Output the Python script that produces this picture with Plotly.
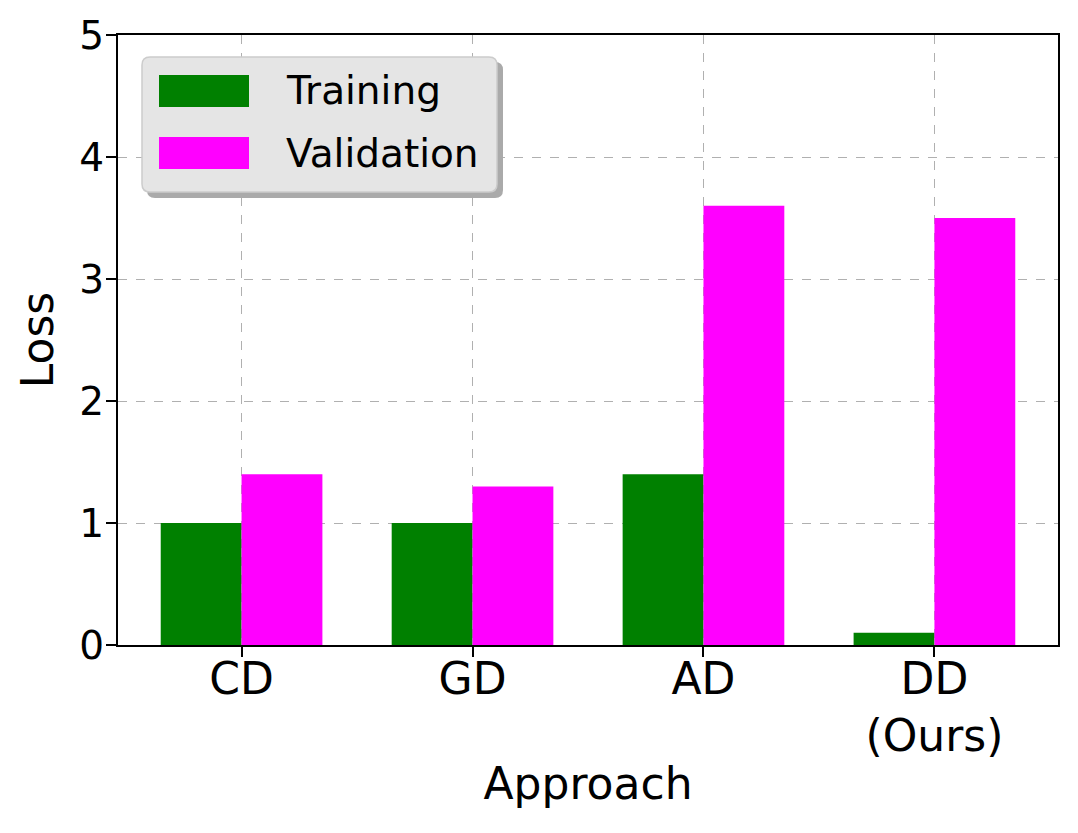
import plotly.graph_objects as go

approaches = ["CD", "GD", "AD", "DD<br>(Ours)"]
positions = [0, 1, 2, 3]
training_loss = [1.0, 1.0, 1.4, 0.1]
validation_loss = [1.4, 1.3, 3.6, 3.5]
y_ticks = [0, 1, 2, 3, 4, 5]

# the page has an 8px body margin, so the figure is a bit smaller than the window
PAGE = 8
W, H = 1078 - PAGE, 833 - PAGE
L, R, T, B = 118 - PAGE, 20, 35 - PAGE, 188
bar_w = 0.35
font = "DejaVu Sans"


def px(x, y):
    # window pixel -> paper coords of the plot area
    x, y = x - PAGE, y - PAGE
    return (x - L) / (W - L - R), (H - B - y) / (H - T - B)


def round_rect(x0, y0, x1, y1, r=8):
    ax, ay = px(x0, y0)
    bx, by = px(x1, y1)
    rx = r / (W - L - R)
    ry = r / (H - T - B)
    return (f"M {ax + rx},{ay} L {bx - rx},{ay} Q {bx},{ay} {bx},{ay - ry} "
            f"L {bx},{by + ry} Q {bx},{by} {bx - rx},{by} L {ax + rx},{by} "
            f"Q {ax},{by} {ax},{by + ry} L {ax},{ay - ry} Q {ax},{ay} {ax + rx},{ay} Z")


fig = go.Figure()
fig.add_trace(go.Bar(x=positions, y=training_loss, width=bar_w, offset=-bar_w,
                     marker=dict(color="#008000", line=dict(width=0)), name="Training"))
fig.add_trace(go.Bar(x=positions, y=validation_loss, width=bar_w, offset=0,
                     marker=dict(color="#ff00ff", line=dict(width=0)), name="Validation"))

# legend box drawn by hand (matplotlib style: shadow + rounded frame)
shapes = [
    dict(type="path", path=round_rect(147, 62, 503, 198), xref="paper", yref="paper",
         fillcolor="#aaaaaa", line=dict(width=0), layer="above"),
    dict(type="path", path=round_rect(142, 57, 497, 192), xref="paper", yref="paper",
         fillcolor="#e5e5e5", line=dict(color="#cccccc", width=1.5), layer="above"),
]
annotations = []
for (cy, color, label) in [(91, "#008000", "Training"), (153, "#ff00ff", "Validation")]:
    x0, y0 = px(159, cy - 16)
    x1, y1 = px(249, cy + 16)
    shapes.append(dict(type="rect", xref="paper", yref="paper", x0=x0, x1=x1, y0=y0, y1=y1,
                       fillcolor=color, line=dict(width=0), layer="above"))
    tx, ty = px(284, cy)
    annotations.append(dict(text=label, xref="paper", yref="paper", x=tx, y=ty,
                            xanchor="left", yanchor="middle", showarrow=False,
                            font=dict(family=font, size=39, color="black")))

fig.update_layout(
    width=W, height=H,
    margin=dict(l=L, r=R, t=T, b=B),
    barmode="overlay",
    plot_bgcolor="white", paper_bgcolor="white",
    showlegend=False,
    shapes=shapes, annotations=annotations,
    font=dict(family=font, color="black"),
)
fig.update_xaxes(
    range=[-0.535, 3.535], tickvals=positions, ticktext=approaches,
    tickfont=dict(size=44), ticks="outside", ticklen=10, tickwidth=2, tickcolor="black",
    ticklabelstandoff=-16, automargin=False,
    showline=True, linecolor="black", linewidth=2, mirror=True,
    showgrid=True, gridcolor="#b0b0b0", griddash="dash", gridwidth=1, zeroline=False,
    title=dict(text="Approach", font=dict(size=44), standoff=8),
)
fig.update_yaxes(
    range=[0, 5], tickvals=y_ticks,
    tickfont=dict(size=39), ticks="outside", ticklen=10, tickwidth=2, tickcolor="black",
    ticklabelstandoff=-6, automargin=False,
    showline=True, linecolor="black", linewidth=2, mirror=True,
    showgrid=True, gridcolor="#b0b0b0", griddash="dash", gridwidth=1, zeroline=False,
    title=dict(text="Loss", font=dict(size=44), standoff=12),
)

fig.write_html("out.html")
